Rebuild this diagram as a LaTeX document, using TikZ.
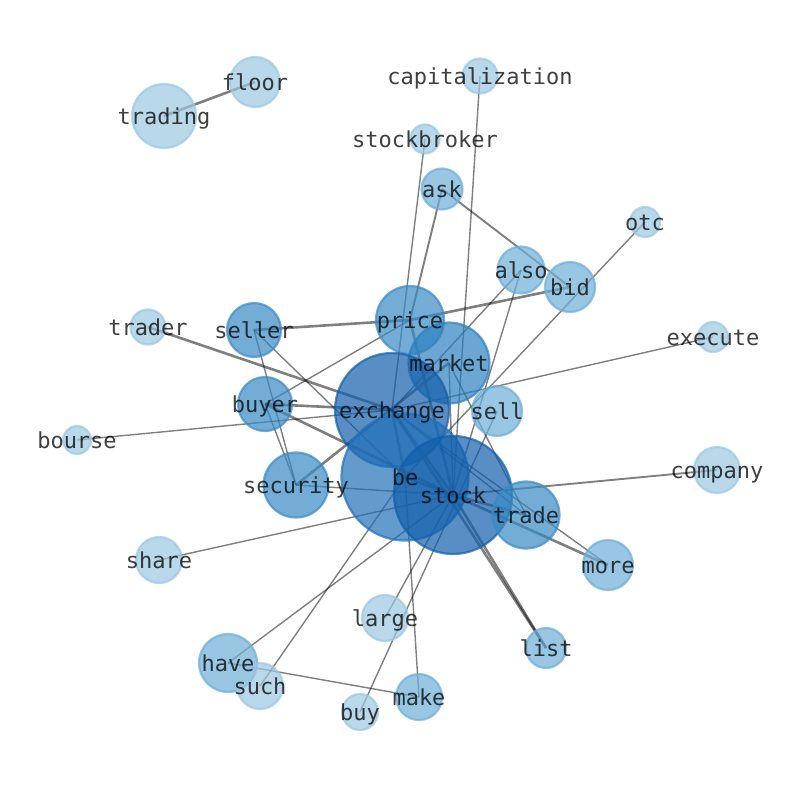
\documentclass[tikz,border=0pt]{standalone}
\usepackage{fontspec}
\setmonofont{DejaVu Sans Mono}
\pgfdeclarelayer{bg}
\pgfdeclarelayer{fg}
\pgfsetlayers{bg,main,fg}
\definecolor{ca}{RGB}{155,199,225}
\definecolor{cb}{RGB}{108,174,215}
\definecolor{cc}{RGB}{56,138,196}
\definecolor{cd}{RGB}{45,128,191}
\definecolor{ce}{RGB}{34,112,184}
\definecolor{cf}{RGB}{18,94,171}
\begin{document}
\begin{tikzpicture}[x=1pt,y=-1pt,
  nd/.style={circle,inner sep=0pt,minimum size=#1,line width=2.2pt,fill opacity=0.7,draw opacity=0.7},
  ka/.style={fill=ca,draw=ca}, kb/.style={fill=cb,draw=cb}, kc/.style={fill=cc,draw=cc},
  kd/.style={fill=cd,draw=cd}, ke/.style={fill=ce,draw=ce}, kf/.style={fill=cf,draw=cf},
  lab/.style={inner sep=0pt,text height=16.7pt,text depth=5.3pt,yshift=-3pt,text=black,text opacity=0.75,font=\fontsize{22}{26}\selectfont\ttfamily},
  ed/.style={draw=black,draw opacity=0.5,line width=1.4pt},
  edm/.style={draw=black,draw opacity=0.5,line width=1.9pt},
  edk/.style={draw=black,draw opacity=0.5,line width=2.6pt}]
\useasboundingbox (0,0) rectangle (794,790);
% nodes
\node[nd=64,ka] (trading) at (164,116) {};
\node[nd=50,ka] (floor) at (255,82) {};
\node[nd=35,ka] (capitalization) at (480,76) {};
\node[nd=29,ka] (stockbroker) at (425,139) {};
\node[nd=41,kb] (ask) at (442,189) {};
\node[nd=30,ka] (otc) at (645,222) {};
\node[nd=47,kb] (also) at (521,270) {};
\node[nd=50,kb] (bid) at (570,287) {};
\node[nd=30,ka] (execute) at (713,337) {};
\node[nd=35,ka] (trader) at (148,327) {};
\node[nd=54,kc] (seller) at (254,330) {};
\node[nd=68,kc] (price) at (410,320) {};
\node[nd=54,kc] (buyer) at (265,404) {};
\node[nd=28,ka] (bourse) at (77,440) {};
\node[nd=46,ka] (company) at (717,470) {};
\node[nd=65,kc] (security) at (296,485) {};
\node[nd=46,ka] (share) at (159,560) {};
\node[nd=46,ka] (large) at (385,618) {};
\node[nd=40,kb] (list) at (546,648) {};
\node[nd=50,kb] (more) at (608,565) {};
\node[nd=58,kb] (have) at (228,663) {};
\node[nd=46,ka] (such) at (260,686) {};
\node[nd=46,kb] (make) at (419,697) {};
\node[nd=36,ka] (buy) at (360,712) {};
\node[nd=50,kb] (sell) at (497,411) {};
\node[nd=81,kd] (market) at (449,363) {};
\node[nd=114,kf] (exchange) at (392,410) {};
\node[nd=127,ke] (be) at (405,477) {};
\node[nd=118,kf] (stock) at (453,495) {};
\node[nd=67,kc] (trade) at (526,515) {};
% edges
\begin{pgfonlayer}{bg}
\draw[ed] (stockbroker.center) -- (exchange.center);
\draw[ed] (capitalization.center) -- (stock.center);
\draw[ed] (otc.center) -- (be.center);
\draw[ed] (execute.center) -- (exchange.center);
\draw[ed] (also.center) -- (exchange.center);
\draw[ed] (also.center) -- (stock.center);
\draw[ed] (seller.center) -- (be.center);
\draw[ed] (seller.center) -- (security.center);
\draw[ed] (buyer.center) -- (security.center);
\draw[ed] (buyer.center) -- (price.center);
\draw[ed] (bourse.center) -- (exchange.center);
\draw[ed] (security.center) -- (stock.center);
\draw[ed] (share.center) -- (stock.center);
\draw[ed] (have.center) -- (stock.center);
\draw[ed] (such.center) -- (be.center);
\draw[ed] (have.center) -- (make.center);
\draw[ed] (make.center) -- (be.center);
\draw[ed] (large.center) -- (stock.center);
\draw[ed] (buy.center) -- (sell.center);
\draw[ed] (market.center) -- (trade.center);
\draw[ed] (exchange.center) -- (more.center);
\draw[ed] (trade.center) -- (exchange.center);
\draw[edm] (ask.center) -- (price.center);
\draw[edm] (ask.center) -- (bid.center);
\draw[edm] (company.center) -- (stock.center);
\draw[edk] (trading.center) -- (floor.center);
\draw[edk] (seller.center) -- (price.center);
\draw[edk] (bid.center) -- (price.center);
\draw[edk] (trader.center) -- (exchange.center);
\draw[edk] (buyer.center) -- (exchange.center);
\draw[edk] (buyer.center) -- (stock.center);
\draw[edk] (security.center) -- (market.center);
\draw[edk] (price.center) -- (stock.center);
\draw[edk] (more.center) -- (stock.center);
\draw[edk] (list.center) -- (stock.center);
\draw[edk] (list.center) -- (exchange.center);
\draw[edk] (trade.center) -- (stock.center);
\draw[edk] (exchange.center) -- (be.center);
\draw[edk] (be.center) -- (stock.center);
\draw[edk] (exchange.center) -- (stock.center);
\draw[ed] (market.center) -- (stock.center);
\end{pgfonlayer}
% labels
\begin{pgfonlayer}{fg}
\foreach \n in {trading,floor,capitalization,stockbroker,ask,otc,also,bid,execute,trader,seller,price,buyer,bourse,company,security,share,large,list,more,have,such,make,buy,sell,market,exchange,be,stock,trade}
  \node[lab] (l-\n) at (\n) {\n};
\end{pgfonlayer}
\end{tikzpicture}
\end{document}
